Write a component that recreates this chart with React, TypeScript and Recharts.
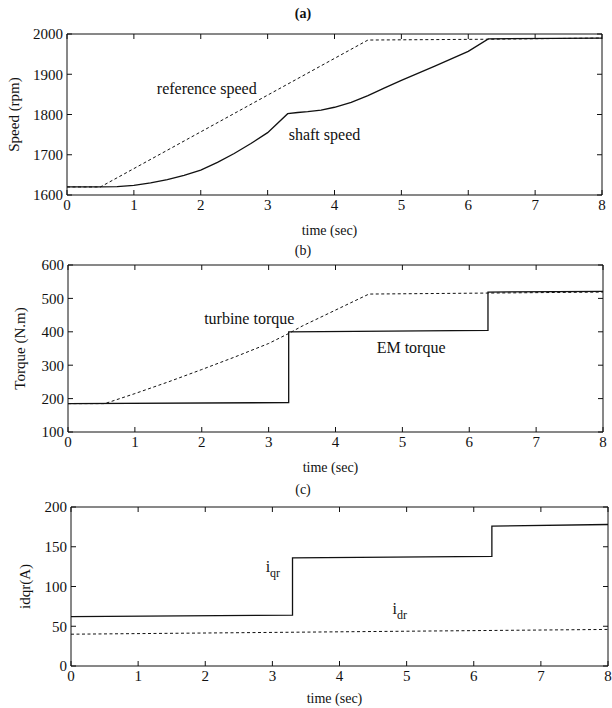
import { LineChart, Line, XAxis, YAxis, ReferenceDot } from 'recharts'

const FONT = '"Liberation Serif", "DejaVu Serif", serif'
const INK = '#111'

const timeTicks = [0, 1, 2, 3, 4, 5, 6, 7, 8]

// (a) speed
const shaftTime = [0, 0.5, 0.75, 1, 1.25, 1.5, 1.75, 2, 2.25, 2.5, 2.75, 3, 3.3, 3.45, 3.6, 3.8, 4, 4.25, 4.5, 4.75, 5, 5.5, 6, 6.3, 8]
const shaftSpeed = [1620, 1620, 1621, 1624, 1630, 1638, 1649, 1662, 1681, 1703, 1728, 1755, 1802, 1805, 1807, 1811, 1818, 1830, 1847, 1866, 1885, 1920, 1957, 1988, 1990]
const refTime = [0, 0.5, 4.5, 6.3, 8]
const refSpeed = [1620, 1620, 1985, 1987, 1990]
const speedTicks = [1600, 1700, 1800, 1900, 2000]

// (b) torque
const turbineTime = [0, 0.55, 1, 1.5, 2, 2.5, 3, 3.3, 3.5, 4, 4.5, 6.3, 8]
const turbineTorque = [185, 185, 215, 250, 287, 325, 365, 395, 417, 465, 513, 516, 519]
const emTime = [0, 3.3, 3.3, 6.28, 6.28, 8]
const emTorque = [185, 188, 400, 404, 519, 521]
const torqueTicks = [100, 200, 300, 400, 500, 600]

// (c) rotor currents
const iqrTime = [0, 3.3, 3.3, 6.27, 6.27, 8]
const iqrValues = [62, 64, 136, 138, 176, 178]
const idrTime = [0, 8]
const idrValues = [40, 46]
const currentTicks = [0, 50, 100, 150, 200]

const zip = (xs: number[], ys: number[]) => xs.map((t, i) => ({ t, v: ys[i] }))

type Series = { data: { t: number; v: number }[]; dashed?: boolean }
type Note = { x: number; y: number; text: string; sub?: string; anchor?: 'middle' | 'start' }

const tickStyle = { fill: INK, fontSize: 15, fontFamily: FONT }
const lineStyle = { stroke: INK, strokeWidth: 1 }

function NoteLabel({ viewBox, note }: any) {
  const x = viewBox.x + (viewBox.width || 0) / 2
  const y = viewBox.y + (viewBox.height || 0) / 2
  return (
    <text x={x} y={y} dy={5} textAnchor={note.anchor || 'middle'} fill={INK} fontSize={16} fontFamily={FONT}>
      {note.text}
      {note.sub && <tspan dy={5} fontSize={12}>{note.sub}</tspan>}
    </text>
  )
}

function Panel(props: {
  top: number; height: number; left: number; right: number; plotTop: number; xAxisHeight: number
  yDomain: [number, number]; yTicks: number[]; yLabel: string; yLabelOffset: number
  xLabelOffset: number; series: Series[]; notes: Note[]
}) {
  const { top, height, left, right, plotTop, xAxisHeight, yDomain, yTicks } = props
  // top and right axes are 1px wide/high: they only draw the frame and inward ticks
  return (
    <div style={{ position: 'absolute', top, left: 0 }}>
      <LineChart width={612} height={height} margin={{ top: plotTop - 1, right: right - 1, bottom: 0, left: 0 }}>
        <XAxis
          xAxisId="b" dataKey="t" type="number" domain={[0, 8]} ticks={timeTicks}
          height={xAxisHeight} tickSize={-5} tickMargin={9} tick={tickStyle}
          axisLine={lineStyle} tickLine={lineStyle} allowDataOverflow
          label={{
            value: 'time (sec)', position: 'insideBottom', offset: props.xLabelOffset, dx: -5,
            style: { fill: INK, fontSize: 14, fontFamily: FONT },
          }}
        />
        <XAxis
          xAxisId="t" dataKey="t" type="number" orientation="top" domain={[0, 8]} ticks={timeTicks}
          height={1} tickSize={-5} tickFormatter={() => ''} axisLine={lineStyle} tickLine={lineStyle}
          allowDataOverflow
        />
        <YAxis
          yAxisId="l" type="number" domain={yDomain} ticks={yTicks} width={left}
          tickSize={-5} tickMargin={9} tick={tickStyle} axisLine={lineStyle} tickLine={lineStyle}
          allowDataOverflow
          label={{
            value: props.yLabel, angle: -90, position: 'insideLeft', offset: props.yLabelOffset,
            style: { fill: INK, fontSize: 15, fontFamily: FONT, textAnchor: 'middle' },
          }}
        />
        <YAxis
          yAxisId="r" type="number" orientation="right" domain={yDomain} ticks={yTicks} width={1}
          tickSize={-5} tickFormatter={() => ''} axisLine={lineStyle} tickLine={lineStyle}
          allowDataOverflow
        />
        <Line
          xAxisId="t" yAxisId="r" data={props.series[0].data} dataKey="v" stroke="none"
          dot={false} activeDot={false} isAnimationActive={false}
        />
        {props.series.map((s, i) => (
          <Line
            key={i} xAxisId="b" yAxisId="l" data={s.data} dataKey="v" type="linear"
            stroke={INK} strokeWidth={s.dashed ? 1 : 1.3} strokeDasharray={s.dashed ? '3 2.5' : undefined}
            dot={false} activeDot={false} isAnimationActive={false}
          />
        ))}
        {props.notes.map((n, i) => (
          <ReferenceDot
            key={i} xAxisId="b" yAxisId="l" x={n.x} y={n.y} r={1} fill="none" stroke="none"
            label={{ content: (p: any) => <NoteLabel {...p} note={n} /> }}
          />
        ))}
      </LineChart>
    </div>
  )
}

function Title({ text, y, bold }: { text: string; y: number; bold?: boolean }) {
  return (
    <div style={{
      position: 'absolute', left: 283, top: y - 9, width: 40, textAlign: 'center',
      fontSize: 14, lineHeight: '18px', fontFamily: FONT, fontWeight: bold ? 700 : 400, color: INK,
    }}>
      {text}
    </div>
  )
}

export default function App() {
  return (
    <div style={{ position: 'absolute', left: 0, top: 0, width: 612, height: 708, background: '#fff' }}>
      <Title text="(a)" y={14} bold />
      <Title text="(b)" y={251} />
      <Title text="(c)" y={490} />
      <Panel
        top={0} height={240} left={67} right={10} plotTop={34} xAxisHeight={45}
        yDomain={[1600, 2000]} yTicks={speedTicks} yLabel="Speed (rpm)" yLabelOffset={14}
        xLabelOffset={5}
        series={[{ data: zip(refTime, refSpeed), dashed: true }, { data: zip(shaftTime, shaftSpeed) }]}
        notes={[
          { x: 2.09, y: 1864, text: 'reference speed' },
          { x: 3.85, y: 1748, text: 'shaft speed' },
        ]}
      />
      <Panel
        top={240} height={235} left={68} right={9} plotTop={25} xAxisHeight={43}
        yDomain={[100, 600]} yTicks={torqueTicks} yLabel="Torque (N.m)" yLabelOffset={20}
        xLabelOffset={3}
        series={[{ data: zip(turbineTime, turbineTorque), dashed: true }, { data: zip(emTime, emTorque) }]}
        notes={[
          { x: 2.71, y: 438, text: 'turbine torque' },
          { x: 5.13, y: 352, text: 'EM torque' },
        ]}
      />
      <Panel
        top={475} height={233} left={71} right={4} plotTop={32} xAxisHeight={42}
        yDomain={[0, 200]} yTicks={currentTicks} yLabel="idqr(A)" yLabelOffset={25}
        xLabelOffset={5}
        series={[{ data: zip(idrTime, idrValues), dashed: true }, { data: zip(iqrTime, iqrValues) }]}
        notes={[
          { x: 2.9, y: 124, text: 'i', sub: 'qr', anchor: 'start' },
          { x: 4.79, y: 72, text: 'i', sub: 'dr', anchor: 'start' },
        ]}
      />
    </div>
  )
}
